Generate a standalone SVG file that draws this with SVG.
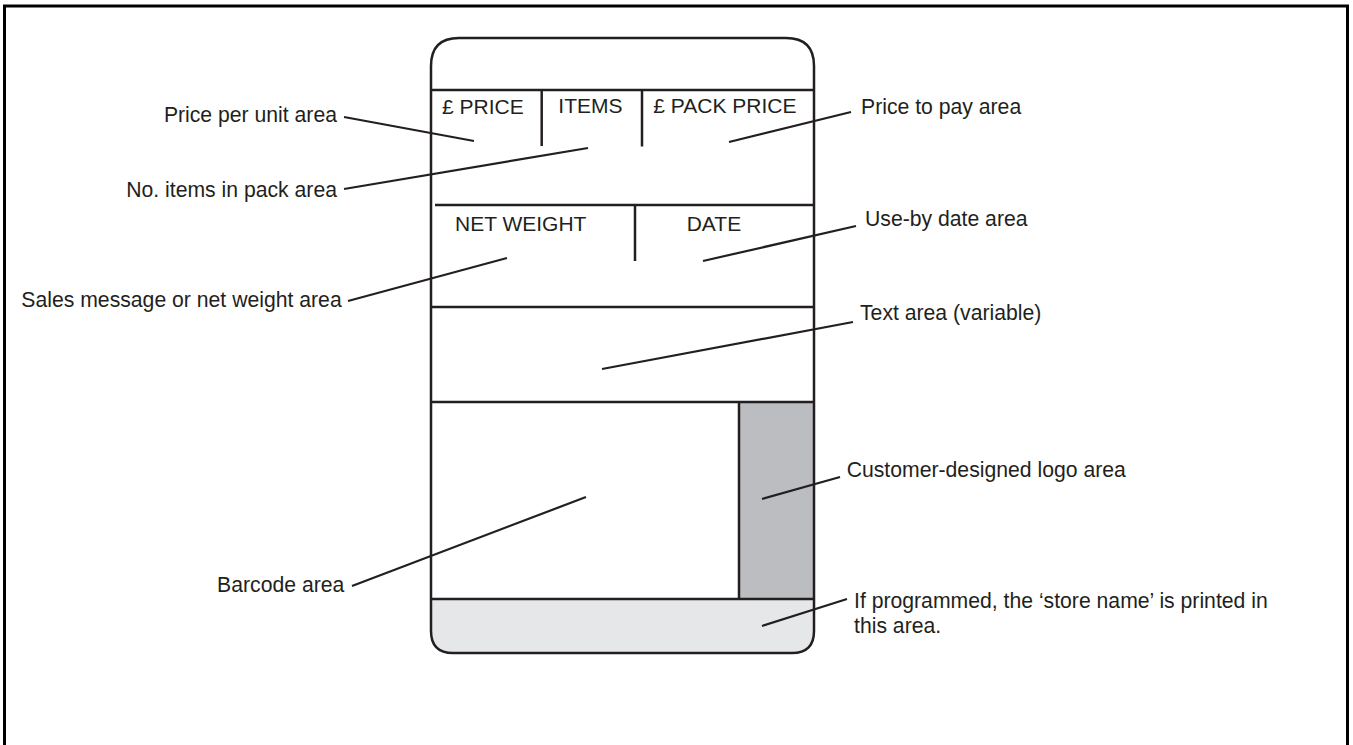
<svg xmlns="http://www.w3.org/2000/svg" width="1353" height="745" viewBox="0 0 1353 745">
<style>
.t{font-family:"Liberation Sans",Arial,sans-serif;font-size:21.2px;fill:#231f20}
.in{font-family:"Liberation Sans",Arial,sans-serif;font-size:21px;fill:#231f20}
.e{text-anchor:end}
.ln{stroke:#231f20;stroke-width:2.5;fill:none}
.ld{stroke:#231f20;stroke-width:2.2;fill:none}
</style>
<rect x="4.5" y="6" width="1343" height="760" fill="#fff" stroke="#000" stroke-width="3"/>
<g id="label">
<path d="M431,599 L814,599 L814,631 Q814,653 792,653 L453,653 Q431,653 431,631 Z" fill="#e6e7e8"/>
<rect x="739" y="402" width="75" height="197" fill="#bcbdc0"/>
<path class="ln" d="M431,631 L431,66 Q431,38 459,38 L786,38 Q814,38 814,66 L814,631 Q814,653 792,653 L453,653 Q431,653 431,631 Z"/>
<line class="ln" x1="431" y1="90" x2="814" y2="90"/>
<line class="ln" x1="541.7" y1="90" x2="541.7" y2="146"/>
<line class="ln" x1="642" y1="90" x2="642" y2="146.5"/>
<line class="ln" x1="435" y1="205" x2="814" y2="205"/>
<line class="ln" x1="635" y1="205" x2="635" y2="261"/>
<line class="ln" x1="431" y1="307" x2="814" y2="307"/>
<line class="ln" x1="431" y1="402" x2="814" y2="402"/>
<line class="ln" x1="739" y1="402" x2="739" y2="599"/>
<line class="ln" x1="431" y1="599" x2="814" y2="599"/>
<text class="in" x="442" y="114">£ PRICE</text>
<text class="in" x="558.3" y="112.7">ITEMS</text>
<text class="in" x="653.3" y="112.7">£ PACK PRICE</text>
<text class="in" x="455" y="230.7">NET WEIGHT</text>
<text class="in" x="686.7" y="230.7">DATE</text>
</g>
<g id="connectors">
<line class="ld" x1="344" y1="117" x2="474" y2="141"/>
<line class="ld" x1="344" y1="189" x2="588" y2="148"/>
<line class="ld" x1="348" y1="301" x2="507" y2="258"/>
<line class="ld" x1="352" y1="586" x2="586" y2="497"/>
<line class="ld" x1="729" y1="142" x2="851" y2="112"/>
<line class="ld" x1="703" y1="261" x2="856" y2="226"/>
<line class="ld" x1="602" y1="369" x2="853" y2="322"/>
<line class="ld" x1="762" y1="499" x2="840" y2="477"/>
<line class="ld" x1="762" y1="626" x2="847" y2="599"/>
</g>
<g id="n-price-unit"><text class="t e" x="337" y="122">Price per unit area</text></g>
<g id="n-items"><text class="t e" x="337" y="197">No. items in pack area</text></g>
<g id="n-sales"><text class="t e" x="341.7" y="307.3">Sales message or net weight area</text></g>
<g id="n-barcode"><text class="t e" x="344.3" y="592.3">Barcode area</text></g>
<g id="n-price-pay"><text class="t" x="861" y="114.3">Price to pay area</text></g>
<g id="n-useby"><text class="t" x="865" y="226">Use-by date area</text></g>
<g id="n-text"><text class="t" x="860" y="320">Text area (variable)</text></g>
<g id="n-logo"><text class="t" x="846.7" y="477.3">Customer-designed logo area</text></g>
<g id="n-store"><text class="t" x="854" y="608.3">If programmed, the ‘store name’ is printed in</text><text class="t" x="854" y="633.3">this area.</text></g>
</svg>
